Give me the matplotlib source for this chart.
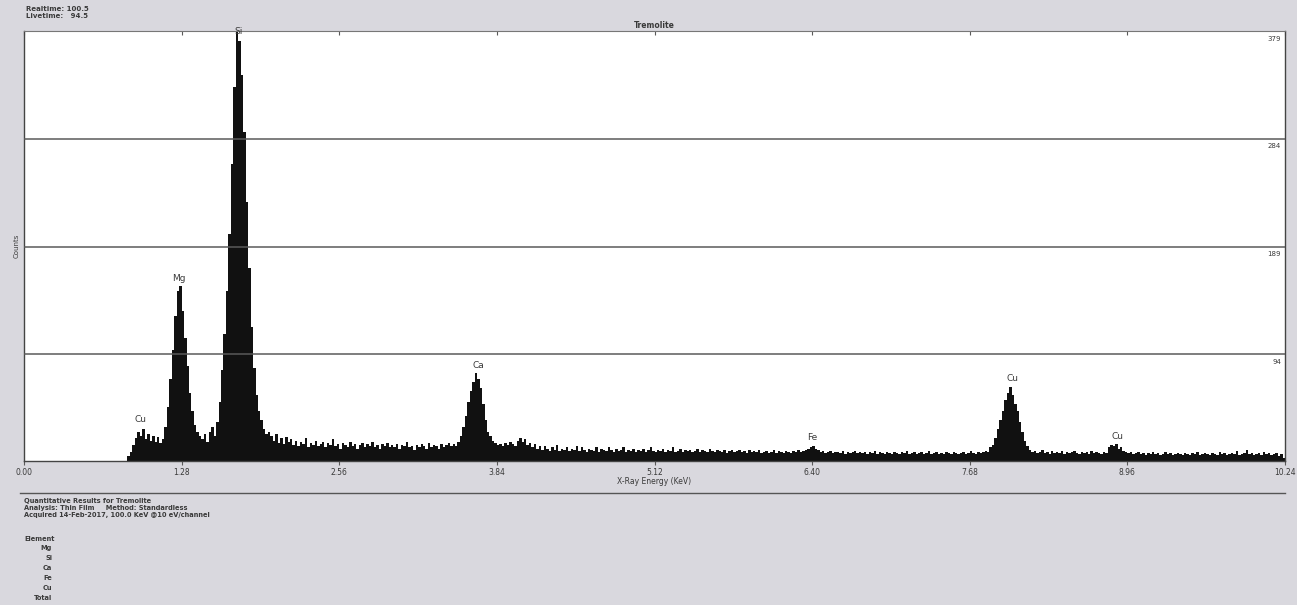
import numpy as np
import matplotlib
matplotlib.use("Agg")
import matplotlib.pyplot as plt

# ── PALETTE ────────────────────────────────────────────────
PAGE  = "#d9d8de"
INK   = "#111111"
GRID  = "#5a5a5a"
TEXT  = "#3a3a3a"

# ── DATA ───────────────────────────────────────────────────
channel_width = 0.02          # keV per plotted bin
spectrum_start = 0.84         # keV, first bin with counts

# counts per bin, 0.84 - 1.98 keV (Cu L, Mg K, Si K)
counts_low = [4, 8, 14, 20, 26, 22, 28, 19, 24, 18, 22, 17, 21, 16, 19,
              30, 48, 72, 98, 128, 150, 154, 132, 108, 84, 60, 44, 32, 26, 22,
              19, 24, 17, 26, 30, 22, 34,
              52, 80, 112, 150, 200, 262, 330, 378, 370, 340, 290, 228, 170,
              118, 82, 58, 44, 36, 28, 24, 26]
# 2.00 - 3.98 keV (Ca K)
counts_ca = [22, 18, 24, 16, 20, 15, 21, 17, 19, 14,
             18, 13, 17, 15, 20, 12, 16, 14, 18, 13,
             15, 17, 12, 16, 14, 19, 13, 15, 11, 16,
             14, 12, 17, 13, 15, 11, 14, 16, 12, 15,
             13, 17, 12, 14, 11, 15, 13, 16, 12, 14,
             12, 15, 11, 14, 13, 17, 12, 13, 10, 14,
             12, 15, 13, 11, 16, 12, 14, 13, 11, 15,
             12, 14, 16, 13, 15, 13, 17, 22, 30, 40,
             52, 62, 70, 78, 72, 64, 50, 36, 26, 22,
             18, 16, 14, 15, 13, 16, 14, 17, 15, 13]
# 4.00 - 5.98 keV
counts_mid = [18, 20, 17, 19, 14, 16, 12, 15, 11, 13,
              10, 13, 11, 9, 12, 10, 14, 9, 11, 10,
              12, 9, 11, 10, 13, 9, 12, 10, 8, 11,
              10, 9, 12, 8, 11, 10, 9, 12, 10, 8,
              11, 9, 10, 12, 8, 10, 9, 11, 8, 10,
              9, 11, 8, 10, 12, 9, 8, 10, 9, 11,
              8, 10, 9, 12, 8, 9, 11, 8, 10, 9,
              10, 8, 9, 11, 8, 10, 9, 8, 11, 9,
              8, 10, 9, 8, 10, 7, 9, 10, 8, 9,
              10, 8, 9, 7, 10, 8, 9, 8, 10, 7]
# 6.00 - 7.98 keV (Fe K, Cu Ka rise)
counts_fe = [8, 9, 7, 8, 10, 7, 9, 8, 7, 9,
             8, 7, 9, 8, 10, 8, 9, 10, 11, 12,
             13, 11, 10, 8, 9, 7, 8, 9, 7, 8,
             8, 7, 9, 6, 8, 7, 8, 9, 7, 8,
             7, 8, 6, 8, 7, 9, 6, 8, 7, 6,
             8, 7, 6, 8, 7, 6, 8, 7, 9, 6,
             7, 8, 6, 7, 8, 6, 7, 9, 6, 7,
             8, 6, 7, 6, 8, 7, 6, 8, 7, 6,
             7, 8, 6, 7, 9, 7, 6, 8, 7, 8,
             9, 8, 12, 14, 20, 28, 36, 44, 54, 60]
# 8.00 - 10.22 keV (Cu Ka, Cu Kb)
counts_cu = [65, 58, 50, 44, 34, 26, 18, 13, 10, 8,
             9, 7, 8, 10, 7, 8, 6, 9, 7, 8,
             7, 9, 6, 8, 7, 8, 9, 7, 6, 8,
             7, 8, 6, 9, 7, 8, 7, 6, 8, 7,
             12, 14, 13, 15, 11, 12, 9, 8, 7, 8,
             6, 7, 8, 6, 7, 5, 7, 6, 8, 6,
             7, 5, 6, 8, 6, 7, 5, 6, 7, 6,
             5, 7, 6, 5, 7, 6, 8, 5, 6, 7,
             6, 5, 7, 6, 5, 8, 6, 7, 5, 6,
             7, 6, 9, 5, 6, 7, 10, 6, 7, 5,
             6, 7, 5, 8, 6, 7, 5, 6, 7, 4, 6, 3]

peak_names  = ["Cu", "Mg", "Si", "Ca", "Fe", "Cu", "Cu"]
peak_energy = [0.95, 1.26, 1.74, 3.69, 6.40, 8.03, 8.88]
peak_label_y = [33, 157, 375, 80, 17, 69, 18]

x_ticks = [0.00, 1.28, 2.56, 3.84, 5.12, 6.40, 7.68, 8.96, 10.24]
y_grid  = [94, 189, 284]
y_labels = [94, 189, 284, 379]
y_max = 379
x_max = 10.24

element_list = ["Mg", "Si", "Ca", "Fe", "Cu", "Total"]

# ── FIGURE ─────────────────────────────────────────────────
plt.rcParams["font.family"] = "DejaVu Sans"
fig = plt.figure(figsize=(12.97, 6.05), dpi=100, facecolor=PAGE)
ax = fig.add_axes([24 / 1297, 1 - 461 / 605, 1261 / 1297, 430 / 605])
ax.set_facecolor("white")

counts = np.array(counts_low + counts_ca + counts_mid + counts_fe + counts_cu, dtype=float)
edges = spectrum_start + channel_width * np.arange(len(counts) + 1)
ax.stairs(counts, edges, fill=True, color=INK, linewidth=0)

for v in y_grid:
    ax.axhline(v, color=GRID, linewidth=1.1, zorder=3)
for v in y_labels:
    ax.text(0.997, v - 4, str(v), transform=ax.get_yaxis_transform(),
            ha="right", va="top", fontsize=5, color=TEXT)

for name, e, yl in zip(peak_names, peak_energy, peak_label_y):
    ax.text(e, yl, name, ha="center", va="bottom", fontsize=6.5, color=TEXT)

ax.set_xlim(0, x_max)
ax.set_ylim(0, y_max)
ax.set_xticks(x_ticks)
ax.set_xticklabels([f"{t:.2f}" for t in x_ticks], fontsize=5.5, color=TEXT)
ax.tick_params(axis="x", direction="out", length=3, width=0.8, pad=2, color=GRID)
ax.set_yticks([])
ax.set_xlabel("X-Ray Energy (KeV)", fontsize=5.5, color=TEXT, labelpad=0)
ax.set_ylabel("Counts", fontsize=5, color=TEXT, labelpad=3)
ax.set_title("Tremolite", fontsize=5.5, color=TEXT, fontweight="bold", pad=2)

# small inward ticks along the top edge
top = ax.secondary_xaxis("top")
top.set_xticks(x_ticks)
top.set_xticklabels([])
top.tick_params(direction="in", length=3, width=0.8, color=GRID)
top.spines["top"].set_visible(False)

for side in ["left", "right", "bottom"]:
    ax.spines[side].set_color("#444444")
    ax.spines[side].set_linewidth(1.0)
ax.spines["top"].set_color("#777777")
ax.spines["top"].set_linestyle((0, (1, 1)))

# header texts
fig.text(26 / 1297, 1 - 9 / 605, "Realtime: 100.5", fontsize=5, color=TEXT,
         fontweight="bold", va="center")
fig.text(26 / 1297, 1 - 16 / 605, "Livetime:   94.5", fontsize=5, color=TEXT,
         fontweight="bold", va="center")

# results block
fig.add_artist(plt.Line2D([20 / 1297, 1285 / 1297], [1 - 493 / 605] * 2,
                          color="#555555", linewidth=1.0))
info = ["Quantitative Results for Tremolite",
        "Analysis: Thin Film     Method: Standardless",
        "Acquired 14-Feb-2017, 100.0 KeV @10 eV/channel"]
for i, line in enumerate(info):
    fig.text(24 / 1297, 1 - (501 + 7 * i) / 605, line, fontsize=4.8,
             color=TEXT, fontweight="bold", va="center")
fig.text(24 / 1297, 1 - 539 / 605, "Element", fontsize=4.8, color=TEXT,
         fontweight="bold", va="center")
for i, el in enumerate(element_list):
    fig.text(52 / 1297, 1 - (548 + 10 * i) / 605, el, fontsize=4.8,
             color=TEXT, fontweight="bold", va="center", ha="right")

fig.savefig("out.png", dpi=100, facecolor=PAGE)
